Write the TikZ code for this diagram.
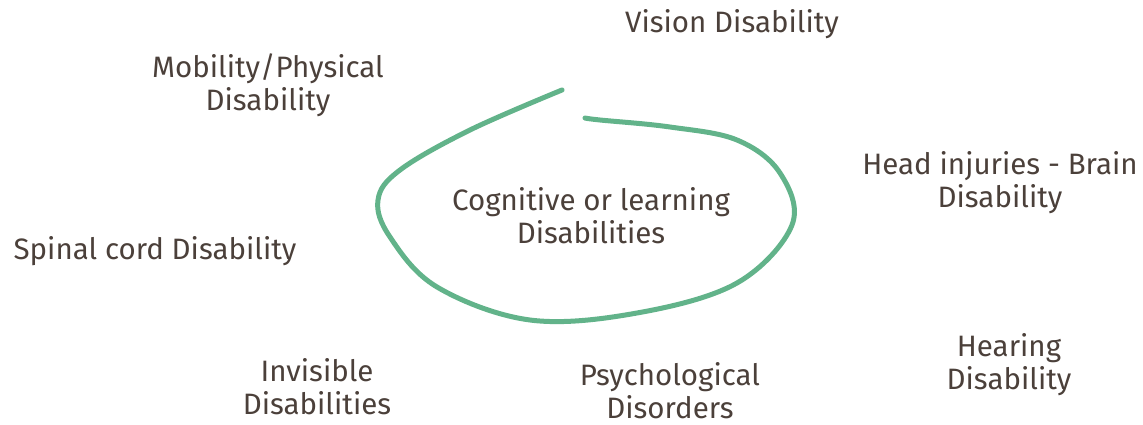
\documentclass[tikz,border=0pt]{standalone}
\usepackage{fontspec}
\setmainfont{Fira Sans}
\definecolor{txt}{HTML}{4B403A}
\definecolor{grn}{HTML}{62B38A}
\begin{document}
\begin{tikzpicture}[x=1pt,y=-1pt,
  lbl/.style={text=txt,font=\fontsize{29.5}{33}\selectfont,align=center,inner sep=0pt,anchor=base}]
\useasboundingbox (0,0) rectangle (1143,425);
\node[lbl] (vision) at (732,33) {Vision Disability};
\node[lbl] (mobility) at (268,111) {Mobility/Physical\\Disability};
\node[lbl] (head) at (1000,207) {Head injuries - Brain\\Disability};
\node[lbl] (cog) at (591,243) {Cognitive or learning\\Disabilities};
\node[lbl] (spinal) at (155,259) {Spinal cord Disability};
\node[lbl] (invisible) at (317,414) {Invisible\\Disabilities};
\node[lbl] (psych) at (670,418) {Psychological\\Disorders};
\node[lbl] (hearing) at (1009,389) {Hearing\\Disability};
\draw[grn,line width=5pt,line cap=round] plot[smooth,tension=0.6] coordinates {
 (562,90) (470,130) (400,170) (378,200) (390,237) (437,287) (530,320) (637,313)
 (737,283) (792,225) (780,173) (737,140) (670,127) (600,120) (585,118)};
\end{tikzpicture}
\end{document}
